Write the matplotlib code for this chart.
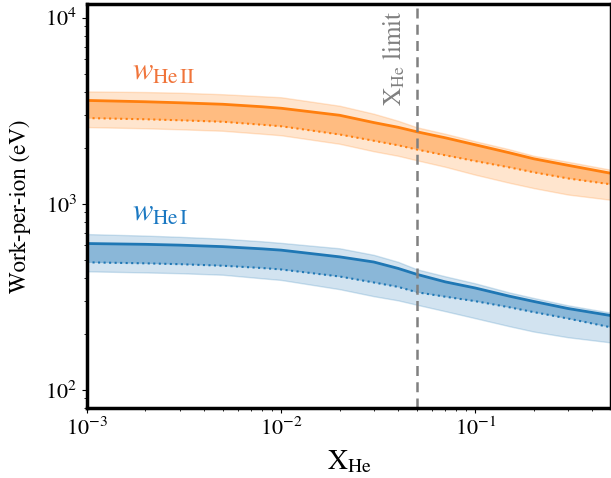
import numpy as np
import matplotlib
matplotlib.use('Agg')
import matplotlib.pyplot as plt
import matplotlib.transforms as mtransforms

plt.rcParams['font.family'] = ['STIXGeneral', 'DejaVu Serif']
plt.rcParams['mathtext.fontset'] = 'stix'

# Helium fraction grid
x_he = [1e-3, 2e-3, 3e-3, 5e-3, 8e-3, 1e-2, 2e-2, 3e-2, 4e-2, 5e-2,
        7e-2, 0.1, 0.15, 0.2, 0.3, 0.5]

# w_He II (orange): solid, dotted, outer band
heII_solid = [3593, 3535, 3491, 3427, 3323, 3262, 2991, 2733, 2578, 2438,
              2264, 2076, 1880, 1746, 1611, 1459]
heII_dot   = [2889, 2846, 2811, 2760, 2659, 2610, 2358, 2182, 2063, 1958,
              1823, 1697, 1569, 1477, 1369, 1273]
heII_hi    = [4016, 3986, 3953, 3880, 3784, 3737, 3365, 3048, 2794, 2578,
              2379, 2168, 1963, 1812, 1682, 1524]
heII_lo    = [2584, 2546, 2515, 2469, 2379, 2335, 2102, 1916, 1812, 1714,
              1581, 1434, 1297, 1215, 1122, 1051]

# w_He I (blue)
heI_solid = [612, 606, 600, 589, 573, 564, 519, 487, 450, 418,
             381, 353, 319, 299, 274, 251]
heI_dot   = [485, 479, 474, 465, 452, 444, 407, 378, 358, 335,
             317, 300, 278, 262, 242, 217]
heI_hi    = [688, 675, 665, 650, 629, 617, 577, 532, 488, 445,
             408, 374, 334, 312, 285, 260]
heI_lo    = [434, 428, 424, 416, 398, 390, 348, 319, 303, 287,
             265, 243, 220, 206, 192, 180]

x_limit = 0.05

fig = plt.figure(figsize=(6.11, 4.78), dpi=100)
ax = fig.add_axes([0.1424, 0.1464, 0.8576, 0.8446])

series = [
    (heII_solid, heII_dot, heII_hi, heII_lo, '#ff7f0e'),
    (heI_solid, heI_dot, heI_hi, heI_lo, '#1f77b4'),
]
for solid, dot, hi, lo, c in series:
    ax.fill_between(x_he, lo, hi, color=c, alpha=0.2, lw=1)
    ax.fill_between(x_he, dot, solid, color=c, alpha=0.4, lw=0)
    ax.plot(x_he, solid, color=c, lw=2)
    ax.plot(x_he, dot, color=c, lw=1.5, ls=':')

ax.axvline(x_limit, color='gray', ls='--', lw=1.8, dashes=(4, 2.5))

ax.set_xscale('log')
ax.set_yscale('log')
ax.set_xlim(1e-3, 0.5)
ax.set_ylim(80, 11800)

trans = mtransforms.blended_transform_factory(ax.transData, ax.transAxes)
ax.text(0.0385, 0.985, r'X$_{\rm He}$ limit', rotation=90, color='gray',
        fontsize=18, ha='center', va='top', transform=trans)

ax.text(0.0017, 4617, r'$w_{\rm He\,II}$', color='#f0743a', fontsize=22,
        ha='left', va='baseline')
ax.text(0.0017, 811, r'$w_{\rm He\,I}$', color='#1a78c2', fontsize=22,
        ha='left', va='baseline')

ax.set_xlabel(r'X$_{\rm He}$', fontsize=20, labelpad=6)
ax.set_ylabel('Work-per-ion (eV)', fontsize=16.5, labelpad=10)
ax.tick_params(labelsize=16)

for s in ['left', 'bottom', 'top', 'right']:
    ax.spines[s].set_linewidth(2.5)

fig.savefig('out.png', dpi=100)
